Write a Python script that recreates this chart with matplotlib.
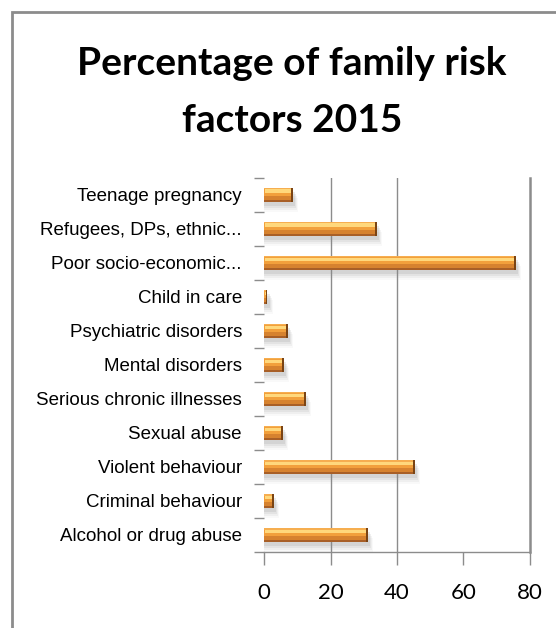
import numpy as np
import matplotlib.pyplot as plt
from matplotlib.patches import Rectangle

labels = ["Teenage pregnancy", "Refugees, DPs, ethnic...", "Poor socio-economic...",
          "Child in care", "Psychiatric disorders", "Mental disorders",
          "Serious chronic illnesses", "Sexual abuse", "Violent behaviour",
          "Criminal behaviour", "Alcohol or drug abuse"]
values = [8.6, 33.9, 75.7, 1.0, 7.1, 5.9, 12.5, 5.6, 45.3, 2.9, 31.2]
xticks = [0, 20, 40, 60, 80]

fig = plt.figure(figsize=(5.56, 6.28), dpi=100)
ax = fig.add_axes([0.475, 0.121, 0.478, 0.596])

y = np.arange(len(labels))
v = np.array(values)
h = 0.42

# soft grey shadow below each bar
for k, a in enumerate([0.16, 0.12, 0.08, 0.05]):
    ax.barh(y + 0.12 + 0.06 * k, v + 0.8 + 0.3 * k, height=h, left=0,
            color='#8a8a8a', alpha=a, linewidth=0, zorder=2)

# bar body with bands for the bevelled look
ax.barh(y, v, height=h, color='#F2A03C', linewidth=0, zorder=3)
ax.barh(y - 0.185, v, height=0.05, color='#F6AE50', linewidth=0, zorder=4)
ax.barh(y - 0.10, v - 0.6, left=0.3, height=0.11, color='#FFD87C',
        linewidth=0, zorder=4)
ax.barh(y + 0.09, v, height=0.12, color='#D6822F', linewidth=0, zorder=4)
ax.barh(y + 0.18, v, height=0.06, color='#A85F27', linewidth=0, zorder=4)
# darker end caps
ax.barh(y, 0.55, left=v - 0.55, height=h, color='#7A4414',
        linewidth=0, zorder=5)

ax.set_xlim(0, 80)
ax.set_ylim(len(labels) - 0.5, -0.5)

for g in [20, 40]:
    ax.axvline(g, color='#8c8c8c', linewidth=1.0, zorder=1)

ax.spines['top'].set_visible(False)
ax.spines['left'].set_visible(False)
ax.spines['right'].set_color('#8c8c8c')
ax.spines['right'].set_linewidth(1.8)
ax.spines['bottom'].set_color('#8c8c8c')
ax.spines['bottom'].set_linewidth(1.0)

ax.set_xticks(xticks)
ax.set_xticklabels([str(t) for t in xticks], fontsize=16, family='Lato')
ax.tick_params(axis='x', length=9, width=1, color='#8c8c8c', pad=13)

# category boundary ticks, labels centred on the bars
ax.set_yticks(np.arange(-0.5, len(labels)))
ax.set_yticklabels([])
ax.tick_params(axis='y', which='major', length=7, width=1, color='#8c8c8c')
ax.set_yticks(y, minor=True)
ax.set_yticklabels(labels, minor=True, fontsize=13.5, family='Liberation Sans')
ax.tick_params(axis='y', which='minor', length=0, pad=16)

fig.text(0.525, 0.854, "Percentage of family risk\nfactors 2015", ha='center',
         va='center', fontsize=28, fontweight='bold', family='Lato',
         linespacing=1.75)

# outer chart frame
fig.patches.append(Rectangle((12 / 556, -0.05), 1.2, 1 - 12 / 628 + 0.05,
                             transform=fig.transFigure, fill=False,
                             edgecolor='#8c8c8c', linewidth=2))

fig.savefig('out.png', dpi=100)
